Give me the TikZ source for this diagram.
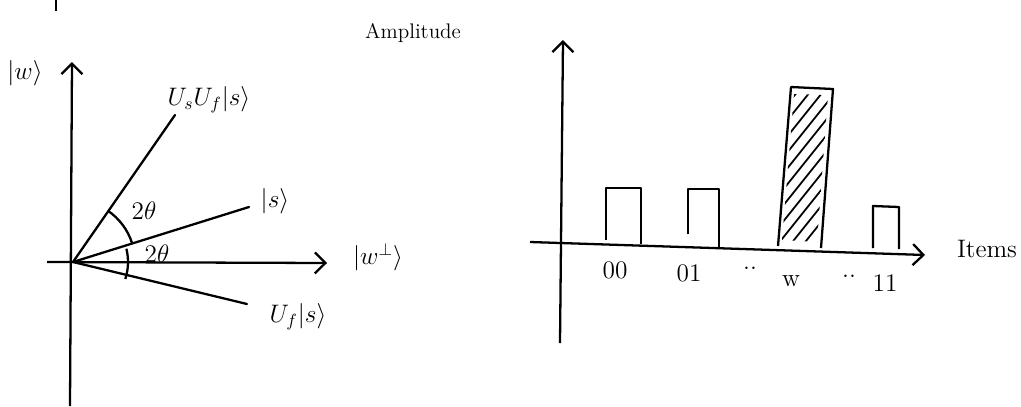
\documentclass[tikz,border=0pt]{standalone}
\usepackage{amsmath}
\usepackage{tikz}
\usetikzlibrary{positioning,arrows.meta,calc}

\begin{document}
\begin{tikzpicture}[x=0.02cm,y=-0.02cm,line width=1.3pt,
  >={Straight Barb[length=6pt,width=12pt]},
  axis/.style={->},
  vec/.style={line cap=round},
  lbl/.style={font=\Large,inner sep=1pt},
  bar/.style={line join=round}]
  \useasboundingbox (0,0) rectangle (1021,406);
  % stray stroke at the top edge
  \coordinate (t1) at (56,0); \coordinate (t2) at (56,11);
  \draw (t1) -- (t2);

  % left: rotation picture
  \coordinate (O) at (73,262);
  \coordinate (ybot) at (70,406);  \coordinate (ytop) at (72,62);
  \coordinate (xl) at (47,262);    \coordinate (xr) at (327,263);
  \coordinate (us) at (175,115);
  \coordinate (s) at (249,207);
  \coordinate (uf) at (247,304);
  \draw[axis] (ybot) -- (ytop);
  \draw[axis] (xl) -- (xr);
  \draw[vec] (O) -- (us);
  \draw[vec] (O) -- (s);
  \draw[vec] (O) -- (uf);
  \draw ($(O)+(-56:62)$) arc[start angle=-56,end angle=-18,radius=62];
  \draw ($(O)+(-14:55)$) arc[start angle=-14,end angle=18,radius=55];
  \node[lbl] (lw) at (25,73) {$|w\rangle$};
  \node[lbl] (lwp) at (378,257) {$|w^{\perp}\rangle$};
  \node[lbl] (lus) at (209,100) {$U_sU_f|s\rangle$};
  \node[lbl] (ls) at (275,201) {$|s\rangle$};
  \node[lbl] (luf) at (298,317) {$U_f|s\rangle$};
  \node[lbl] (th1) at (144,211) {$2\theta$};
  \node[lbl] (th2) at (157,254) {$2\theta$};

  % right: amplitudes
  \coordinate (ab) at (560,343); \coordinate (at) at (563,40);
  \coordinate (il) at (530,242); \coordinate (ir) at (925,255);
  \draw[axis] (ab) -- (at);
  \draw[axis] (il) -- (ir);
  \draw[bar] (606,240) -- (606,188) -- (641,188) -- (641,244);
  \draw[bar] (688,234) -- (688,189) -- (719,189) -- (719,247);
  \draw[bar] (778,246) -- (791,87) -- (833,89) -- (821,248);
  \draw[bar] (873,248) -- (873,206) -- (899,207) -- (899,249);
  \begin{scope}
    \clip (782,240) -- (794,94) -- (828,95) -- (817,242) -- cycle;
    \foreach \k in {0,...,13}
      \draw[line width=1pt] (770,110+\k*16) -- ++(60,-75);
  \end{scope}
  \node[lbl,font=\large] (amp) at (413,33) {Amplitude};
  \node[lbl] (items) at (987,249) {Items};
  \node[lbl] (n00) at (615,270) {00};
  \node[lbl] (n01) at (689,273) {01};
  \node[lbl] (d1) at (750,268) {..};
  \node[lbl] (nw) at (791,281) {w};
  \node[lbl] (d2) at (849,276) {..};
  \node[lbl] (n11) at (885,283) {11};
\end{tikzpicture}
\end{document}
